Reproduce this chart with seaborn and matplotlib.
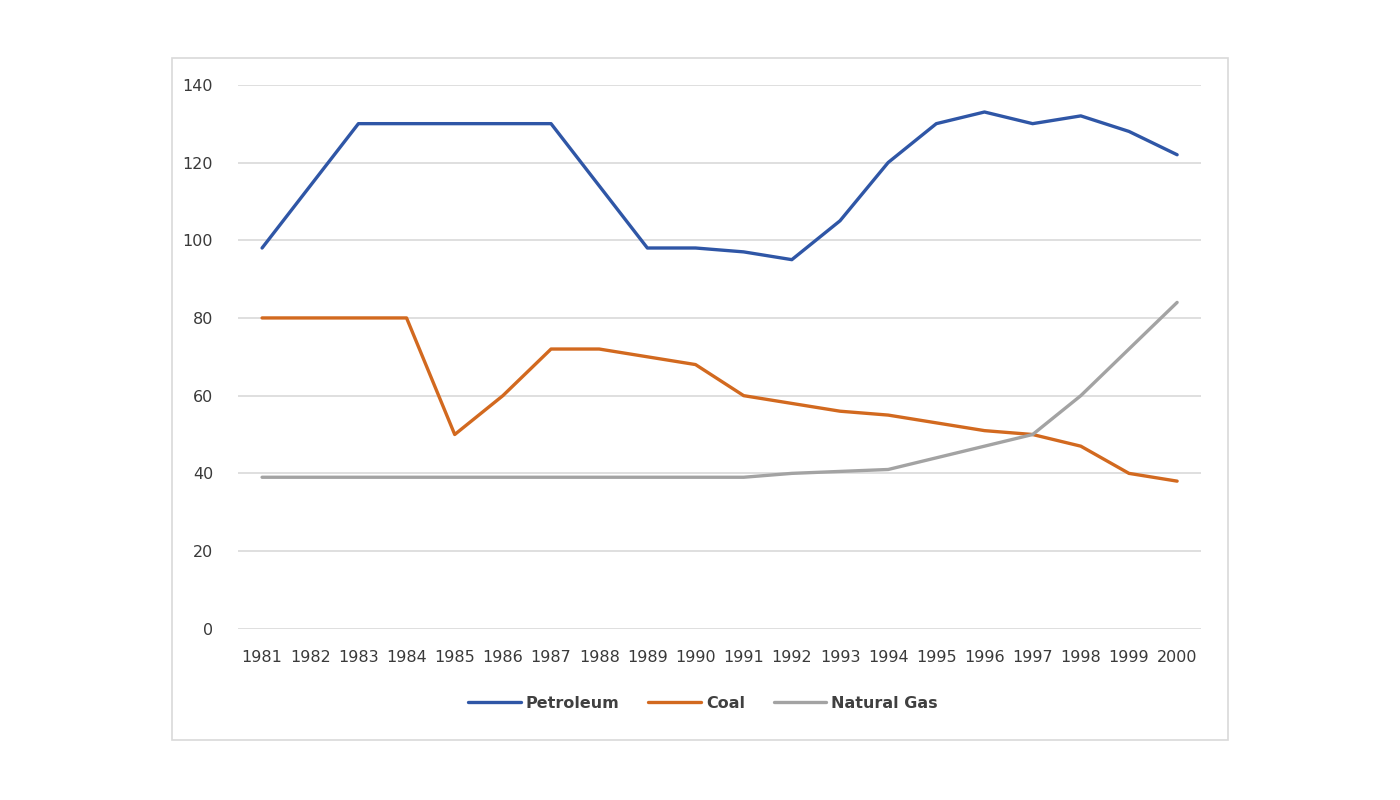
import pandas as pd
import matplotlib.pyplot as plt
import seaborn as sns
from matplotlib.patches import Rectangle

sns.set_theme(style="white")
plt.rcParams["font.family"] = ["DejaVu Sans"]

# Datos
years = [str(y) for y in range(1981, 2001)]
petroleum = [98, 114, 130, 130, 130, 130, 130, 114, 98, 98,
             97, 95, 105, 120, 130, 133, 130, 132, 128, 122]
coal = [80, 80, 80, 80, 50, 60, 72, 72, 70, 68,
        60, 58, 56, 55, 53, 51, 50, 47, 40, 38]
natural_gas = [39, 39, 39, 39, 39, 39, 39, 39, 39, 39,
               39, 40, 40.5, 41, 44, 47, 50, 60, 72, 84]

series_names = ["Petroleum", "Coal", "Natural Gas"]
colores = ["#2F56A6", "#D2691F", "#A3A3A3"]

df = pd.DataFrame({
    "Year": years * 3,
    "Value": petroleum + coal + natural_gas,
    "Source": [s for s in series_names for _ in years],
})

fig = plt.figure(figsize=(14, 8), dpi=100)
ax = fig.add_axes([0.170, 0.214, 0.688, 0.680])

# marco exterior del gráfico
fig.patches.append(Rectangle((172 / 1400, 1 - 740 / 800), (1228 - 172) / 1400, (740 - 58) / 800,
                             transform=fig.transFigure, fill=False,
                             edgecolor="#D9D9D9", linewidth=1.2))

sns.lineplot(data=df, x="Year", y="Value", hue="Source", palette=colores,
             linewidth=2.4, sort=False, ax=ax, legend=False)

ax.set_xlim(-0.5, len(years) - 0.5)
ax.set_ylim(0, 140)
ax.set_yticks(range(0, 141, 20))
ax.yaxis.grid(True, color="#D9D9D9", linewidth=1.2)
ax.set_axisbelow(True)
for s in ax.spines.values():
    s.set_visible(False)
ax.set_xlabel("")
ax.set_ylabel("")
ax.tick_params(axis="y", length=0, pad=18, labelsize=11.5, labelcolor="#3A3A3A")
ax.tick_params(axis="x", length=0, pad=15, labelsize=11.5, labelcolor="#3A3A3A")

handles = [plt.Line2D([], [], color=c, linewidth=2.4) for c in colores]
fig.legend(handles, series_names, loc="center", bbox_to_anchor=(703 / 1400, 1 - 703 / 800),
           ncol=3, frameon=False, handlelength=3.3, handletextpad=0.3, columnspacing=1.8,
           prop={"size": 11.5, "weight": "bold"}, labelcolor="#404040")

fig.savefig("out.png", dpi=100, facecolor="white")
